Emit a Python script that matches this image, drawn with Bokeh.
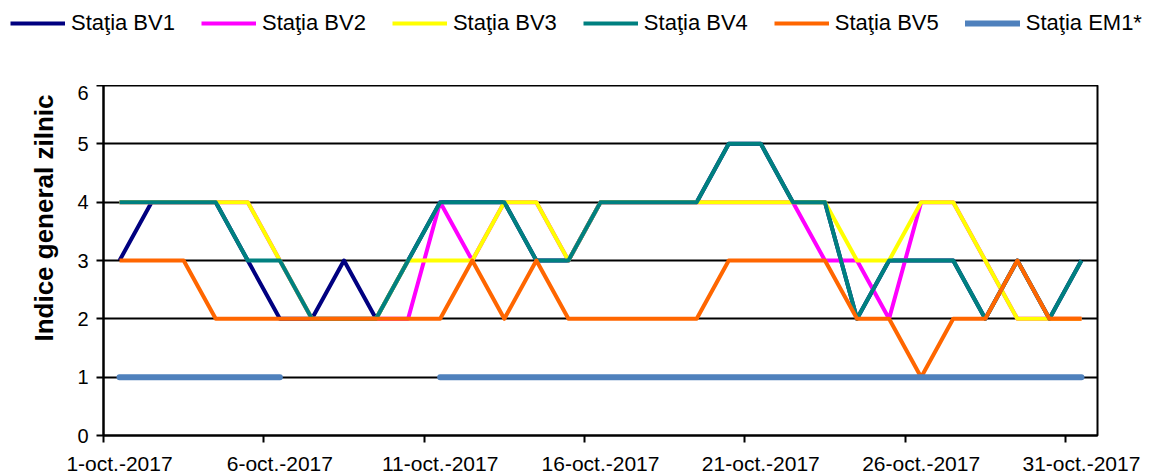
import math
from bokeh.plotting import figure
from bokeh.layouts import column
from bokeh.models import FixedTicker, Legend, LegendItem, Title, Range1d
from bokeh.embed import file_html
from bokeh.resources import INLINE

# ---- data ----
days = [f"{d}-oct.-2017" for d in range(1, 32)]
bv1 = [3, 4, 4, 4, 3, 2, 2, 3, 2, 3, 4, 4, 4, 3, 3, 4, 4, 4, 4, 5, 5, 4, 4, 2, 3, 3, 3, 2, 3, 2, 3]
bv2 = [4, 4, 4, 4, 4, 3, 2, 2, 2, 2, 4, 3, 4, 4, 3, 4, 4, 4, 4, 4, 4, 4, 3, 3, 2, 4, 4, 3, 2, 2, 2]
bv3 = [4, 4, 4, 4, 4, 3, 2, 2, 2, 3, 3, 3, 4, 4, 3, 4, 4, 4, 4, 4, 4, 4, 4, 3, 3, 4, 4, 3, 2, 2, 2]
bv4 = [4, 4, 4, 4, 3, 3, 2, 2, 2, 3, 4, 4, 4, 3, 3, 4, 4, 4, 4, 5, 5, 4, 4, 2, 3, 3, 3, 2, 3, 2, 3]
bv5 = [3, 3, 3, 2, 2, 2, 2, 2, 2, 2, 2, 3, 2, 3, 2, 2, 2, 2, 2, 3, 3, 3, 3, 2, 2, 1, 2, 2, 3, 2, 2]
nan = float("nan")
em1 = [1, 1, 1, 1, 1, 1, nan, nan, nan, nan] + [1] * 21
series_names = ["Staţia BV1", "Staţia BV2", "Staţia BV3", "Staţia BV4", "Staţia BV5", "Staţia EM1*"]
y_ticks = [0, 1, 2, 3, 4, 5, 6]
y_label = "Indice general zilnic"

colors = ["#000080", "#FF00FF", "#FFFF00", "#008080", "#FF6600", "#4F81BD"]
widths = [4, 4, 4, 4, 4, 6]
all_series = [bv1, bv2, bv3, bv4, bv5, em1]

x = [i + 0.5 for i in range(len(days))]

FONT = "Liberation Sans"
W, H = 1155, 474
FL, FT, FW, FH = 103, 85, 994, 350

# ---- legend strip (top): same series, drawn outside its visible range ----
pl = figure(frame_width=W, frame_height=FT, min_border_left=0, min_border_right=0,
            min_border_top=0, min_border_bottom=0,
            x_range=Range1d(0, len(days)), y_range=Range1d(-20, -10),
            x_axis_type=None, y_axis_type=None, title=None,
            output_backend="svg", toolbar_location=None)
pl.frame_align = False
pl.outline_line_color = None
pl.xgrid.visible = False
pl.ygrid.visible = False
pl.border_fill_color = "white"
leg_items = []
for name, ys, c, w in zip(series_names, all_series, colors, widths):
    r = pl.line(x, ys, line_color=c, line_width=w, line_cap="round" if w > 4 else "butt")
    leg_items.append(LegendItem(label=name, renderers=[r]))
legend = Legend(items=leg_items, orientation="horizontal", location=(10, FT - 36),
                label_text_font=FONT, label_text_font_size="22px", label_text_color="black",
                glyph_width=55, glyph_height=20, label_standoff=6, spacing=26,
                padding=0, margin=0, border_line_color=None, background_fill_alpha=0)
pl.add_layout(legend)

# ---- main chart ----
p = figure(frame_width=FW, frame_height=FH,
           min_border_left=FL, min_border_top=0,
           min_border_right=W - FL - FW, min_border_bottom=H - FT - FH,
           x_range=Range1d(0, len(days)), y_range=Range1d(0, 6), title=None,
           output_backend="svg", toolbar_location=None)
p.frame_align = False

for ys, c, w in zip(all_series, colors, widths):
    p.line(x, ys, line_color=c, line_width=w, line_join="round",
           line_cap="round" if w > 4 else "butt")

# x axis: labels at category centres, ticks at category boundaries (minor ticks)
label_pos = [i + 0.5 for i in range(0, len(days), 5)]
bound_pos = [i for i in range(0, len(days), 5)]
p.xaxis.ticker = FixedTicker(ticks=label_pos, minor_ticks=bound_pos)
p.xaxis.major_label_overrides = {i + 0.5: days[i] for i in range(0, len(days), 5)}
p.xaxis.major_tick_out = 0
p.xaxis.major_tick_in = 0
p.xaxis.minor_tick_out = 7
p.xaxis.minor_tick_in = 0
p.xaxis.minor_tick_line_color = "black"
p.xaxis.minor_tick_line_width = 2
p.xaxis.major_label_standoff = 9
p.xaxis.major_label_text_font = FONT
p.xaxis.major_label_text_font_size = "21px"
p.xaxis.major_label_text_color = "black"
p.xaxis.axis_line_color = "black"
p.xaxis.axis_line_width = 2

p.yaxis.ticker = FixedTicker(ticks=y_ticks, minor_ticks=[])
p.yaxis.major_tick_out = 7
p.yaxis.major_tick_in = 0
p.yaxis.major_tick_line_width = 2
p.yaxis.major_tick_line_color = "black"
p.yaxis.major_label_standoff = 8
p.yaxis.major_label_text_font = FONT
p.yaxis.major_label_text_font_size = "20px"
p.yaxis.major_label_text_color = "black"
p.yaxis.axis_line_color = "black"
p.yaxis.axis_line_width = 2
p.yaxis.minor_tick_line_color = None

p.xgrid.grid_line_color = None
p.ygrid.ticker = FixedTicker(ticks=y_ticks)
p.ygrid.grid_line_color = "black"
p.ygrid.grid_line_width = 2

p.outline_line_color = "black"
p.outline_line_width = 2
p.background_fill_color = "white"
p.border_fill_color = "white"

# y axis title (top-aligned, like the reference)
p.add_layout(Title(text=y_label, align="right", offset=9, standoff=31,
                   text_font=FONT, text_font_size="26px", text_font_style="bold",
                   text_color="black"), "left")

layout = column(pl, p, spacing=0)
open("out.html", "w").write(file_html(layout, INLINE))
